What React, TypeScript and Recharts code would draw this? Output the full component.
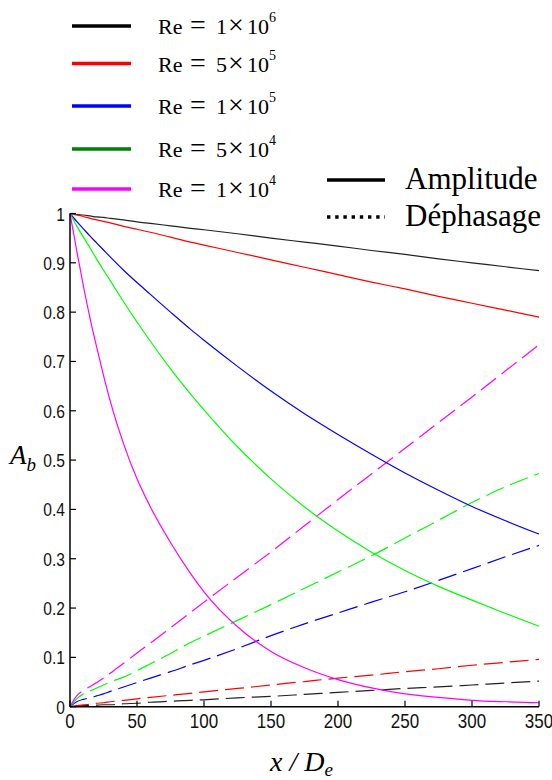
import React from 'react';
import { LineChart, Line, XAxis, YAxis } from 'recharts';

// x / De sample positions
const xs = [0, 5, 10, 15, 20, 25, 30, 40, 50, 60, 75, 90, 100, 125, 150, 175, 200, 225, 250, 275, 300, 325, 350];

// Amplitude (solid)
const ampRe1e6 = [1, 0.998, 0.997, 0.995, 0.993, 0.992, 0.99, 0.987, 0.983, 0.98, 0.975, 0.97, 0.967, 0.959, 0.95, 0.942, 0.934, 0.925, 0.917, 0.908, 0.9, 0.892, 0.884];
const ampRe5e5 = [1, 0.997, 0.994, 0.99, 0.987, 0.984, 0.981, 0.974, 0.968, 0.962, 0.952, 0.942, 0.936, 0.921, 0.906, 0.891, 0.876, 0.861, 0.847, 0.832, 0.818, 0.804, 0.79];
const ampRe1e5 = [1, 0.984, 0.969, 0.954, 0.94, 0.926, 0.912, 0.885, 0.86, 0.836, 0.8, 0.765, 0.743, 0.69, 0.64, 0.594, 0.552, 0.512, 0.474, 0.439, 0.406, 0.377, 0.35];
const ampRe5e4 = [1, 0.975, 0.952, 0.93, 0.907, 0.885, 0.864, 0.821, 0.78, 0.741, 0.685, 0.634, 0.602, 0.527, 0.462, 0.405, 0.356, 0.313, 0.276, 0.244, 0.216, 0.189, 0.163];
const ampRe1e4 = [1, 0.925, 0.853, 0.787, 0.728, 0.672, 0.62, 0.533, 0.462, 0.405, 0.333, 0.27, 0.233, 0.162, 0.112, 0.079, 0.055, 0.038, 0.026, 0.019, 0.013, 0.01, 0.008];

// Phase shift (dashed)
const phRe1e6 = [0, 0.001, 0.002, 0.002, 0.003, 0.004, 0.004, 0.006, 0.007, 0.009, 0.011, 0.013, 0.014, 0.018, 0.021, 0.025, 0.029, 0.033, 0.037, 0.04, 0.044, 0.048, 0.052];
const phRe5e5 = [0, 0.002, 0.004, 0.005, 0.007, 0.008, 0.01, 0.013, 0.016, 0.019, 0.023, 0.027, 0.03, 0.037, 0.044, 0.051, 0.058, 0.064, 0.071, 0.077, 0.084, 0.09, 0.096];
const phRe1e5 = [0, 0.01, 0.015, 0.018, 0.022, 0.026, 0.031, 0.04, 0.049, 0.058, 0.071, 0.085, 0.094, 0.118, 0.144, 0.168, 0.19, 0.212, 0.233, 0.256, 0.28, 0.304, 0.327];
const phRe5e4 = [0, 0.016, 0.026, 0.032, 0.038, 0.044, 0.05, 0.06, 0.073, 0.087, 0.108, 0.13, 0.143, 0.175, 0.207, 0.24, 0.273, 0.306, 0.342, 0.378, 0.414, 0.446, 0.473];
const phRe1e4 = [0, 0.022, 0.033, 0.041, 0.049, 0.058, 0.068, 0.088, 0.109, 0.129, 0.16, 0.191, 0.212, 0.263, 0.314, 0.367, 0.42, 0.472, 0.524, 0.576, 0.628, 0.681, 0.734];

const xTicks = [0, 50, 100, 150, 200, 250, 300, 350];
const yTicks = [0, 0.1, 0.2, 0.3, 0.4, 0.5, 0.6, 0.7, 0.8, 0.9, 1];

const legendMantissa = ['1', '5', '1', '5', '1'];
const legendExponent = ['6', '5', '5', '4', '4'];
const legendColors = ['#000000', '#ff0000', '#0000ff', '#008000', '#ff00ff'];
const plotColors = ['#222222', '#ff0000', '#0000ff', '#00ff00', '#ff00ff'];
const legendRowY = [26, 63.5, 106, 149, 189];

const ampSeries = [ampRe1e6, ampRe5e5, ampRe1e5, ampRe5e4, ampRe1e4];
const phSeries = [phRe1e6, phRe5e5, phRe1e5, phRe5e4, phRe1e4];

const data = xs.map((x, i) => {
  const row: Record<string, number> = { x };
  ampSeries.forEach((s, k) => { row['a' + k] = s[i]; });
  phSeries.forEach((s, k) => { row['p' + k] = s[i]; });
  return row;
});

const TICK_FONT = "'Liberation Sans', Arial, sans-serif";
const SERIF = "'Liberation Serif', 'Times New Roman', serif";

const XTick = (props: any) => {
  const { x, y, payload } = props;
  return (
    <g>
      <line x1={x} y1={y} x2={x} y2={y - 6} stroke="#000" strokeWidth={1.2} />
      <text
        transform={`translate(${x},${y + 21.5}) scale(0.85,1)`}
        textAnchor="middle"
        fontFamily={TICK_FONT}
        fontSize={20}
        fill="#111"
      >
        {payload.value}
      </text>
    </g>
  );
};

const YTick = (props: any) => {
  const { x, y, payload } = props;
  return (
    <g>
      <line x1={x} y1={y} x2={x + 6} y2={y} stroke="#000" strokeWidth={1.2} />
      <text
        transform={`translate(${x - 5},${y + 7}) scale(0.82,1)`}
        textAnchor="end"
        fontFamily={TICK_FONT}
        fontSize={19}
        fill="#111"
      >
        {String(payload.value)}
      </text>
    </g>
  );
};

export default function App() {
  return (
    <div style={{ position: 'absolute', left: 0, top: 0, width: 552, height: 780, background: '#fff' }}>
      <LineChart
        width={552}
        height={780}
        data={data}
        margin={{ top: 213.5, right: 13, bottom: 43.3, left: 0 }}
      >
        <XAxis
          dataKey="x"
          type="number"
          domain={[0, 350]}
          ticks={xTicks}
          height={30}
          tickLine={false}
          tickSize={0}
          tickMargin={0}
          tick={<XTick />}
          axisLine={{ stroke: '#000', strokeWidth: 1.5 }}
          interval={0}
        />
        <YAxis
          type="number"
          domain={[0, 1]}
          ticks={yTicks}
          width={70}
          tickLine={false}
          tickSize={0}
          tickMargin={0}
          tick={<YTick />}
          axisLine={{ stroke: '#000', strokeWidth: 1.5 }}
          interval={0}
        />
        {plotColors.map((c, k) => (
          <Line
            key={'p' + k}
            dataKey={'p' + k}
            type="monotone"
            stroke={c}
            strokeWidth={1.2}
            strokeDasharray="19 7"
            dot={false}
            isAnimationActive={false}
          />
        ))}
        {plotColors.map((c, k) => (
          <Line
            key={'a' + k}
            dataKey={'a' + k}
            type="monotone"
            stroke={c}
            strokeWidth={1.2}
            dot={false}
            isAnimationActive={false}
          />
        ))}
      </LineChart>
      <svg
        width={552}
        height={780}
        style={{ position: 'absolute', left: 0, top: 0, pointerEvents: 'none' }}
      >
        {legendColors.map((c, k) => {
          const cy = legendRowY[k];
          return (
            <g key={k}>
              <line x1={72} y1={cy} x2={131} y2={cy} stroke={c} strokeWidth={3.3} />
              <text y={cy + 8} fontFamily={SERIF} fontSize={22} fill="#000">
                <tspan x={158}>Re</tspan>
                <tspan x={190} fontSize={28}>=</tspan>
                <tspan x={216}>{legendMantissa[k]}</tspan>
                <tspan x={228} fontSize={28}>×</tspan>
                <tspan x={247}>10</tspan>
                <tspan dy={-12} fontSize={14}>{legendExponent[k]}</tspan>
              </text>
            </g>
          );
        })}
        <line x1={327} y1={180} x2={385} y2={180} stroke="#000" strokeWidth={3.3} />
        <text x={405} y={189} fontFamily={SERIF} fontSize={31} fill="#000">Amplitude</text>
        <line x1={327} y1={217} x2={385} y2={217} stroke="#000" strokeWidth={3.3} strokeDasharray="3.4 4.8" />
        <text x={405} y={226} fontFamily={SERIF} fontSize={31} fill="#000">Déphasage</text>
        <text x={10} y={464} fontFamily={SERIF} fontSize={27} fontStyle="italic" fill="#000">
          A<tspan dy={7} fontSize={19}>b</tspan>
        </text>
        <text x={270} y={771} fontFamily={SERIF} fontSize={28} fontStyle="italic" fill="#000">
          x / D<tspan dy={5} fontSize={19}>e</tspan>
        </text>
      </svg>
    </div>
  );
}
